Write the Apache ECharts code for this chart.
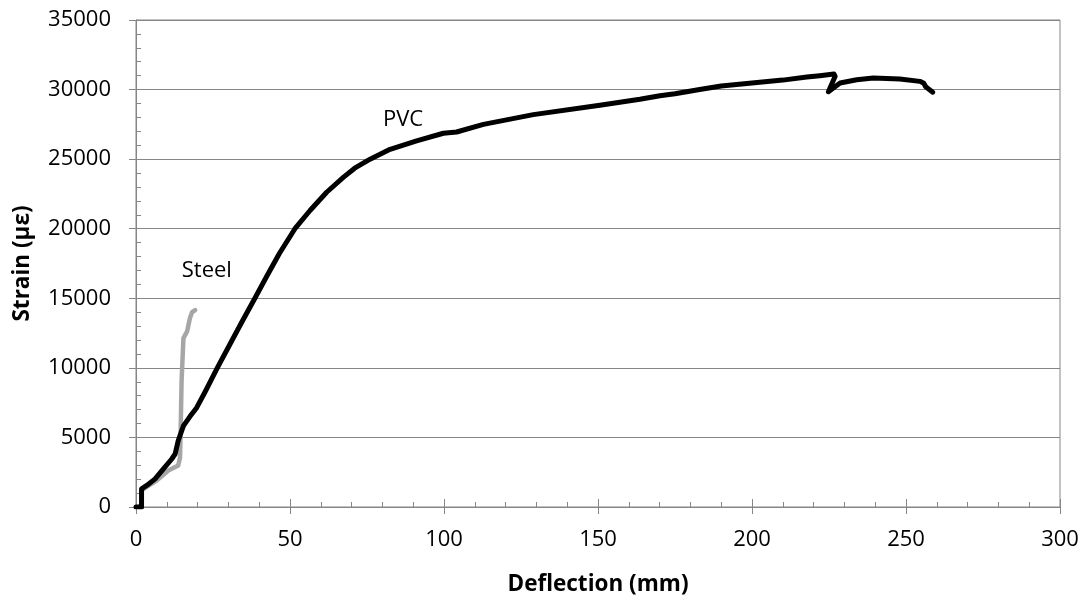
<!DOCTYPE html>
<html>
<head>
<meta charset="utf-8">
<script src="https://cdn.jsdelivr.net/npm/echarts@6/dist/echarts.min.js"></script>
<style>
html,body{margin:0;padding:0;background:#fff;}
#chart{width:1088px;height:601px;}
</style>
</head>
<body>
<div id="chart"></div>
<script>
// Deflection (mm) / Strain (με) pairs
var pvcDeflection = [0, 1.8, 1.8, 3.5, 6.2, 8.9, 11.6, 12.7, 13.7, 15.4, 17.5, 19.7, 22.5, 26.4, 30.5, 34.5, 38.6, 42.5, 46.5, 51.6, 56.5, 61.9, 67.3, 71.0, 76.0, 82.5, 91.1, 99.8, 104.1, 112.8, 129.0, 150.6, 163.6, 170.1, 175.0, 183.0, 190.0, 200.0, 210.0, 217.8, 222.0, 226.6, 227.0, 224.8, 228.6, 234.0, 239.4, 248.0, 254.5, 255.8, 256.4, 258.7];
var pvcStrain     = [0, 0, 1310, 1550, 2020, 2740, 3450, 3810, 4760, 5830, 6500, 7140, 8300, 10000, 11700, 13350, 15000, 16600, 18200, 20000, 21310, 22620, 23690, 24350, 25000, 25710, 26310, 26860, 26950, 27500, 28200, 28880, 29300, 29560, 29700, 30000, 30250, 30470, 30680, 30900, 31000, 31120, 30950, 29850, 30470, 30710, 30830, 30760, 30590, 30450, 30200, 29810];

var steelDeflection = [0, 1.8, 1.8, 3.5, 6.7, 10.5, 13.7, 14.3, 14.5, 14.8, 15.4, 16.6, 17.5, 18.2, 19.2];
var steelStrain     = [0, 0, 1200, 1450, 1900, 2620, 2980, 3570, 5480, 9050, 12140, 12620, 13570, 14000, 14150];

var xTicks = {min: 0, max: 300, interval: 50};
var yTicks = {min: 0, max: 35000, interval: 5000};

var labelNames = ['PVC', 'Steel'];
var labelDeflection = [86.7, 23];
var labelStrain = [27800, 16950];

function pairs(xs, ys){ return xs.map(function(x,i){ return [x, ys[i]]; }); }

var axisGray = '#868686';
var font = 'Open Sans';
var plain = function(v){ return String(v); };

var chart = echarts.init(document.getElementById('chart'), null, {renderer:'canvas'});
chart.setOption({
  animation: false,
  backgroundColor: '#ffffff',
  grid: {left: 136, top: 20, width: 924, height: 490, show: true, borderColor: axisGray, borderWidth: 1, backgroundColor: 'transparent'},
  xAxis: [{
    type: 'value', min: xTicks.min, max: xTicks.max, interval: xTicks.interval, position: 'bottom',
    name: 'Deflection (mm)', nameLocation: 'middle', nameGap: 66,
    nameTextStyle: {fontFamily: font, fontWeight: 'bold', fontSize: 22.5, color: '#000'},
    axisLine: {show: true, lineStyle: {color: axisGray, width: 1}},
    axisTick: {show: true, inside: false, length: 7, lineStyle: {color: axisGray}},
    minorTick: {show: false},
    axisLabel: {fontFamily: font, fontSize: 22, color: '#000', margin: 22, formatter: plain},
    splitLine: {show: false}
  }, {
    type: 'value', min: xTicks.min, max: xTicks.max, interval: xTicks.interval, position: 'bottom',
    axisLine: {show: false},
    axisTick: {show: true, inside: true, length: 8, lineStyle: {color: axisGray}},
    minorTick: {show: true, splitNumber: 5, length: 5, lineStyle: {color: axisGray}},
    axisLabel: {show: false},
    splitLine: {show: false}
  }],
  yAxis: [{
    type: 'value', min: yTicks.min, max: yTicks.max, interval: yTicks.interval, position: 'left',
    name: 'Strain (με)', nameLocation: 'middle', nameGap: 102, nameRotate: 90,
    nameTextStyle: {fontFamily: font, fontWeight: 'bold', fontSize: 22.5, color: '#000'},
    axisLine: {show: true, lineStyle: {color: axisGray, width: 1}},
    axisTick: {show: true, inside: false, length: 7, lineStyle: {color: axisGray}},
    minorTick: {show: false},
    axisLabel: {fontFamily: font, fontSize: 22, color: '#000', margin: 25, formatter: plain},
    splitLine: {show: true, lineStyle: {color: axisGray, width: 1}}
  }, {
    type: 'value', min: yTicks.min, max: yTicks.max, interval: yTicks.interval, position: 'left',
    axisLine: {show: false},
    axisTick: {show: true, inside: true, length: 7, lineStyle: {color: axisGray}},
    minorTick: {show: true, splitNumber: 5, length: 5, lineStyle: {color: axisGray}},
    axisLabel: {show: false},
    splitLine: {show: false}
  }],
  series: [{
    name: 'Steel', type: 'line', xAxisIndex: 0, yAxisIndex: 0,
    data: pairs(steelDeflection, steelStrain),
    showSymbol: false, symbol: 'none', smooth: false,
    lineStyle: {color: '#a6a6a6', width: 4.5, cap: 'round', join: 'round'}
  }, {
    name: 'PVC', type: 'line', xAxisIndex: 0, yAxisIndex: 0,
    data: pairs(pvcDeflection, pvcStrain),
    showSymbol: false, symbol: 'none', smooth: false,
    lineStyle: {color: '#000000', width: 5, cap: 'round', join: 'round'}
  }, {
    name: 'labels', type: 'scatter', xAxisIndex: 0, yAxisIndex: 0,
    data: labelNames.map(function(n, i){ return {name: n, value: [labelDeflection[i], labelStrain[i]]}; }),
    symbol: 'circle', symbolSize: 1, itemStyle: {color: '#ffffff', opacity: 0},
    silent: true,
    label: {show: true, position: 'inside', formatter: function(p){ return p.name; }, fontFamily: font, fontSize: 22, color: '#000000', opacity: 1, textBorderWidth: 0, textBorderColor: 'transparent'}
  }]
});
</script>
</body>
</html>
